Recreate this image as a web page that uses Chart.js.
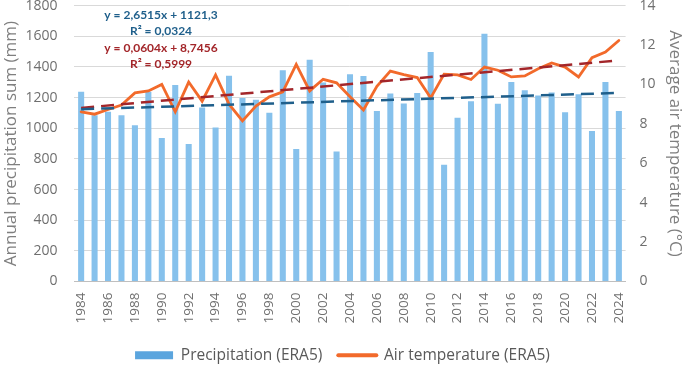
<!DOCTYPE html>
<html>
<head>
<meta charset="utf-8">
<script src="https://cdn.jsdelivr.net/npm/chart.js"></script>
<style>
    body { margin: 0; background: #fff; }
    canvas { display: block; }
</style>
</head>
<body>
<canvas id="myChart" width="685" height="365"></canvas>
<script>
var years = ["1984", "1985", "1986", "1987", "1988", "1989", "1990", "1991", "1992", "1993",
    "1994", "1995", "1996", "1997", "1998", "1999", "2000", "2001", "2002", "2003",
    "2004", "2005", "2006", "2007", "2008", "2009", "2010", "2011", "2012", "2013",
    "2014", "2015", "2016", "2017", "2018", "2019", "2020", "2021", "2022", "2023", "2024"];

var precipitation = [1238, 1084, 1108, 1084, 1019, 1238, 936, 1282, 897, 1136,
    1005, 1343, 1197, 1186, 1101, 1378, 864, 1447, 1299, 848,
    1352, 1340, 1113, 1226, 1161, 1230, 1497, 762, 1068, 1176,
    1616, 1160, 1302, 1248, 1214, 1233, 1105, 1222, 982, 1302, 1113];

var temperature = [8.61, 8.49, 8.73, 8.95, 9.57, 9.67, 10.0, 8.61, 10.12, 9.15,
    10.48, 9.0, 8.15, 8.9, 9.37, 9.62, 11.02, 9.67, 10.26, 10.08,
    9.37, 8.7, 9.9, 10.68, 10.5, 10.35, 9.32, 10.52, 10.48, 10.25,
    10.88, 10.72, 10.38, 10.43, 10.8, 11.09, 10.88, 10.38, 11.36, 11.64, 12.23];

// trend line end values (1984 and 2024), other years left empty
var precipTrend = [1124, null, null, null, null, null, null, null, null, null,
    null, null, null, null, null, null, null, null, null, null,
    null, null, null, null, null, null, null, null, null, null,
    null, null, null, null, null, null, null, null, null, null, 1230];
var tempTrend = [8.81, null, null, null, null, null, null, null, null, null,
    null, null, null, null, null, null, null, null, null, null,
    null, null, null, null, null, null, null, null, null, null,
    null, null, null, null, null, null, null, null, null, null, 11.22];

var precipEquation = ["y = 2,6515x + 1121,3", "R\u00b2 = 0,0324"];
var tempEquation = ["y = 0,0604x + 8,7456", "R\u00b2 = 0,5999"];

var fontName = "'Open Sans', sans-serif";
var tickColor = "#6F6F6F";

var equationText = {
    id: "equationText",
    afterDraw(chart) {
        var ctx = chart.ctx;
        ctx.save();
        ctx.font = "bold 12px Lato, sans-serif";
        ctx.textAlign = "center";
        ctx.textBaseline = "middle";
        ctx.fillStyle = "#1F5F8B";
        ctx.fillText(precipEquation[0], 161, 15);
        ctx.fillText(precipEquation[1], 161, 31);
        ctx.fillStyle = "#A3262A";
        ctx.fillText(tempEquation[0], 161, 48);
        ctx.fillText(tempEquation[1], 161, 64);
        ctx.restore();
    }
};

new Chart(document.getElementById("myChart"), {
    type: "bar",
    data: {
        labels: years,
        datasets: [
            {
                label: "Precipitation (ERA5)",
                data: precipitation,
                backgroundColor: "#86C1EC",
                borderWidth: 0,
                categoryPercentage: 1,
                barPercentage: 0.45,
                yAxisID: "y",
                order: 5
            },
            {
                type: "line",
                label: "Air temperature (ERA5)",
                data: temperature,
                borderColor: "#F26A2B",
                backgroundColor: "#F26A2B",
                borderWidth: 2.8,
                borderCapStyle: "round",
                pointRadius: 0,
                tension: 0,
                yAxisID: "y1",
                order: 3
            },
            {
                type: "line",
                label: "precipTrend",
                data: precipTrend,
                borderColor: "#1F5F8B",
                borderWidth: 2.5,
                borderDash: [13, 7],
                pointRadius: 0,
                spanGaps: true,
                yAxisID: "y",
                order: 1
            },
            {
                type: "line",
                label: "tempTrend",
                data: tempTrend,
                borderColor: "#A3262A",
                borderWidth: 2.5,
                borderDash: [13, 7],
                pointRadius: 0,
                spanGaps: true,
                yAxisID: "y1",
                order: 2
            }
        ]
    },
    options: {
        responsive: false,
        animation: false,
        layout: { padding: { top: 0, left: 0, right: 0, bottom: -8 } },
        plugins: {
            tooltip: { enabled: false },
            legend: {
                display: true,
                position: "bottom",
                labels: {
                    sort: (a, b) => a.datasetIndex - b.datasetIndex,
                    filter: (item) => item.text.indexOf("Trend") < 0,
                    usePointStyle: true,
                    pointStyleWidth: 38,
                    boxHeight: 8,
                    padding: 16,
                    color: "#595959",
                    font: { family: fontName, size: 15.5 },
                    generateLabels: (chart) => {
                        var items = Chart.defaults.plugins.legend.labels.generateLabels(chart);
                        items.forEach((item) => {
                            if (item.datasetIndex == 0) {
                                item.pointStyle = "rect";
                                item.fillStyle = "#5BA5DE";
                                item.lineWidth = 0;
                            } else {
                                item.pointStyle = "line";
                                item.lineWidth = 4;
                                item.lineCap = "round";
                            }
                        });
                        return items;
                    }
                }
            }
        },
        scales: {
            x: {
                grid: { display: false, drawTicks: false },
                border: { color: "#BFBFBF" },
                afterFit: (scale) => { scale.height = 50; },
                ticks: {
                    autoSkip: false,
                    maxRotation: 90,
                    minRotation: 90,
                    padding: 11,
                    color: tickColor,
                    font: { family: fontName, size: 13.5 },
                    callback: function (value, index) {
                        return index % 2 == 0 ? this.getLabelForValue(value) : "";
                    }
                }
            },
            y: {
                position: "left",
                min: 0,
                max: 1800,
                ticks: {
                    stepSize: 200,
                    padding: 0,
                    color: tickColor,
                    font: { family: fontName, size: 14, lineHeight: 0.8 },
                    callback: (v) => String(v)
                },
                grid: { color: "#D9D9D9", drawTicks: true, tickLength: 17, tickColor: "rgba(0,0,0,0)" },
                border: { display: false },
                title: {
                    display: true,
                    text: "Annual precipitation sum (mm)",
                    color: "#7F7F7F",
                    padding: { top: 1, bottom: 4 },
                    font: { family: fontName, size: 17 }
                }
            },
            y1: {
                position: "right",
                min: 0,
                max: 14,
                ticks: {
                    stepSize: 2,
                    padding: 0,
                    color: tickColor,
                    font: { family: fontName, size: 14, lineHeight: 0.8 },
                    callback: (v) => String(v)
                },
                grid: { drawOnChartArea: false, drawTicks: true, tickLength: 14, tickColor: "rgba(0,0,0,0)" },
                border: { display: false },
                title: {
                    display: true,
                    text: "Average air temperature (\u00b0C)",
                    color: "#7F7F7F",
                    padding: { top: 0, bottom: 9 },
                    font: { family: fontName, size: 17 }
                }
            }
        }
    },
    plugins: [equationText]
});
</script>
</body>
</html>
